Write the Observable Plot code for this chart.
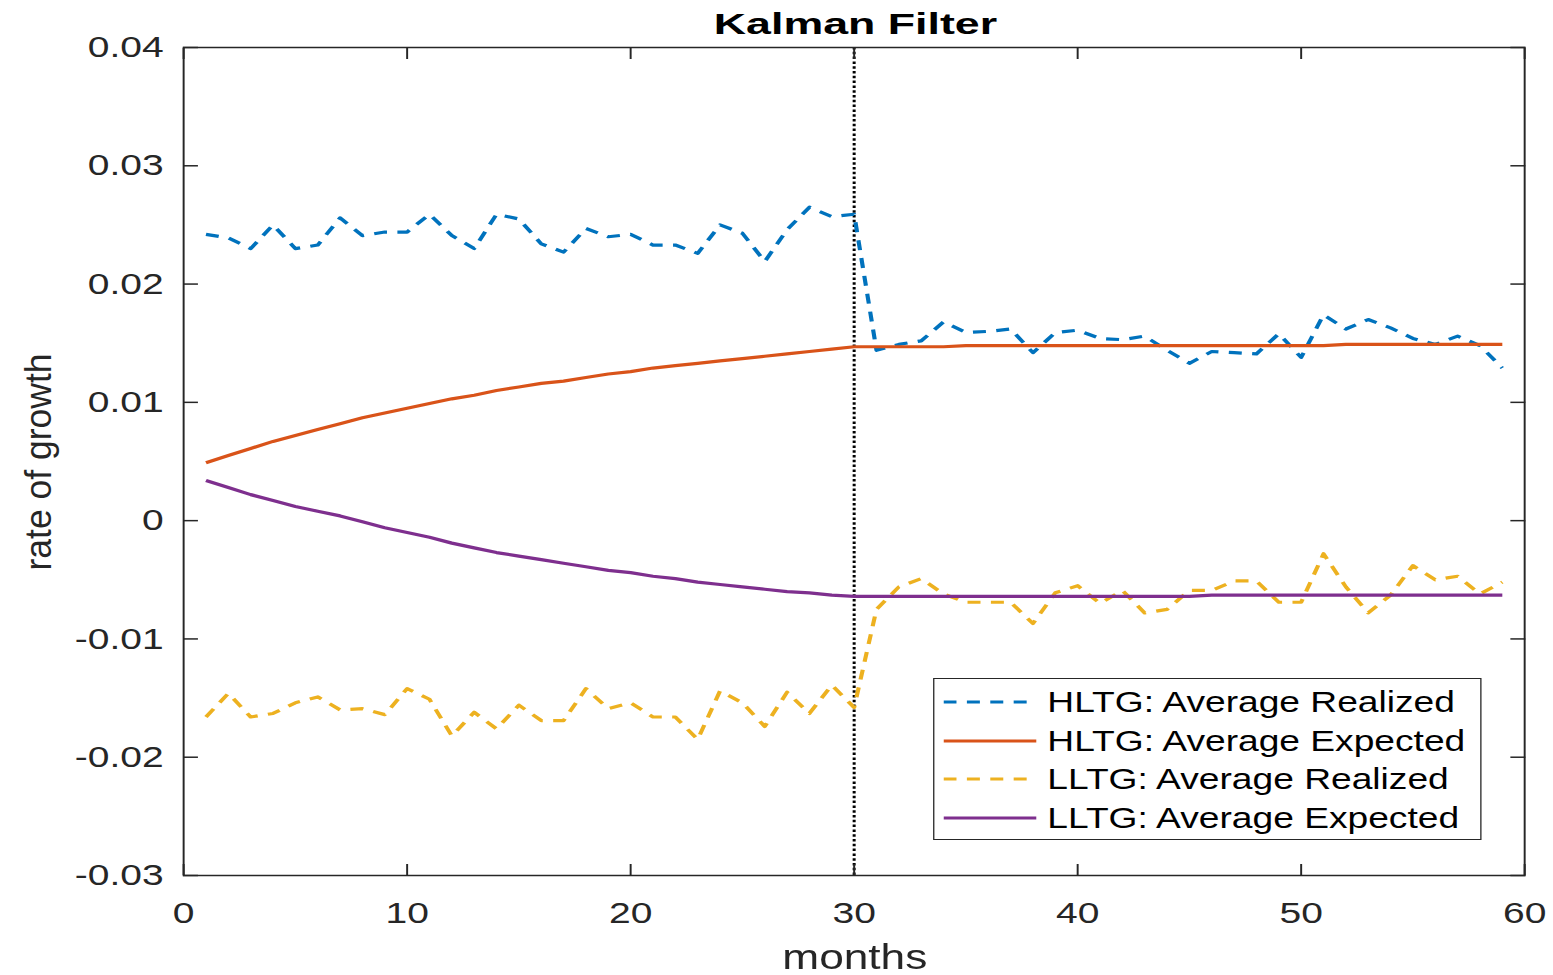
<!DOCTYPE html>
<html>
<head>
<meta charset="utf-8">
<script src="https://cdn.jsdelivr.net/npm/d3@7"></script>
<script src="https://cdn.jsdelivr.net/npm/@observablehq/plot@0.6"></script>
<style>
  html, body { margin: 0; padding: 0; background: white; overflow: hidden; }
  #chart { position: relative; width: 1195px; height: 975px; transform-origin: 0 0; }
  #legend { position: absolute; box-sizing: border-box; background: white; border: 1.4px solid #262626; }
  #legend .row { position: absolute; left: 0; width: 100%; height: 38px; }
  #legend .row svg { position: absolute; top: 0; }
  #legend .row span { position: absolute; top: 0; line-height: 38px; white-space: nowrap;
    font-family: 'Liberation Sans', Arial, Helvetica, sans-serif; font-size: 28.6px; color: #000; }
</style>
</head>
<body>
<div id="chart"></div>
<script>
// ---- data ----
const months = d3.range(1, 60); // months 1..59
const xTicks = [0, 10, 20, 30, 40, 50, 60];
const yTicks = [-0.03, -0.02, -0.01, 0, 0.01, 0.02, 0.03, 0.04];
const breakMonth = [30];
const titleText = ["Kalman Filter"];
const xLabel = ["months"];
const yLabel = ["rate of growth"];

const hltgRealized = [
  0.0242, 0.0239, 0.0230, 0.0250, 0.0230, 0.0233, 0.0256, 0.0241, 0.0244, 0.0244,
  0.0259, 0.0241, 0.0230, 0.0259, 0.0255, 0.0234, 0.0227, 0.0247, 0.0240, 0.0242,
  0.0233, 0.0233, 0.0226, 0.0250, 0.0243, 0.0219, 0.0246, 0.0265, 0.0257, 0.0259,
  0.0144, 0.0149, 0.0152, 0.0168, 0.0159, 0.0160, 0.0162, 0.0142, 0.0159, 0.0161,
  0.0154, 0.0153, 0.0156, 0.0144, 0.0133, 0.0143, 0.0142, 0.0141, 0.0158, 0.0138,
  0.0174, 0.0162, 0.0170, 0.0163, 0.0154, 0.0149, 0.0156, 0.0148, 0.0129
];
const hltgExpected = [
  0.0049, 0.0055, 0.0061, 0.0067, 0.0072, 0.0077, 0.0082, 0.0087, 0.0091, 0.0095,
  0.0099, 0.0103, 0.0106, 0.0110, 0.0113, 0.0116, 0.0118, 0.0121, 0.0124, 0.0126,
  0.0129, 0.0131, 0.0133, 0.0135, 0.0137, 0.0139, 0.0141, 0.0143, 0.0145, 0.0147,
  0.0147, 0.0147, 0.0147, 0.0147, 0.0148, 0.0148, 0.0148, 0.0148, 0.0148, 0.0148,
  0.0148, 0.0148, 0.0148, 0.0148, 0.0148, 0.0148, 0.0148, 0.0148, 0.0148, 0.0148,
  0.0148, 0.0149, 0.0149, 0.0149, 0.0149, 0.0149, 0.0149, 0.0149, 0.0149
];
const lltgRealized = [
  -0.0166, -0.0146, -0.0166, -0.0163, -0.0154, -0.0149, -0.0160, -0.0159, -0.0164, -0.0142,
  -0.0151, -0.0182, -0.0162, -0.0176, -0.0156, -0.0169, -0.0169, -0.0142, -0.0159, -0.0154,
  -0.0166, -0.0166, -0.0185, -0.0144, -0.0154, -0.0174, -0.0145, -0.0163, -0.0139, -0.0158,
  -0.0075, -0.0056, -0.0049, -0.0062, -0.0069, -0.0069, -0.0069, -0.0087, -0.0061, -0.0055,
  -0.0070, -0.0059, -0.0078, -0.0075, -0.0059, -0.0059, -0.0051, -0.0051, -0.0069, -0.0069,
  -0.0028, -0.0056, -0.0078, -0.0063, -0.0038, -0.0050, -0.0047, -0.0062, -0.0052
];
const lltgExpected = [
  0.0034, 0.0028, 0.0022, 0.0017, 0.0012, 0.0008, 0.0004, -0.0001, -0.0006, -0.0010,
  -0.0014, -0.0019, -0.0023, -0.0027, -0.0030, -0.0033, -0.0036, -0.0039, -0.0042, -0.0044,
  -0.0047, -0.0049, -0.0052, -0.0054, -0.0056, -0.0058, -0.0060, -0.0061, -0.0063, -0.0064,
  -0.0064, -0.0064, -0.0064, -0.0064, -0.0064, -0.0064, -0.0064, -0.0064, -0.0064, -0.0064,
  -0.0064, -0.0064, -0.0064, -0.0064, -0.0064, -0.0063, -0.0063, -0.0063, -0.0063, -0.0063,
  -0.0063, -0.0063, -0.0063, -0.0063, -0.0063, -0.0063, -0.0063, -0.0063, -0.0063
];

const seriesNames = ["HLTG: Average Realized", "HLTG: Average Expected", "LLTG: Average Realized", "LLTG: Average Expected"];
const seriesValues = [hltgRealized, hltgExpected, lltgRealized, lltgExpected];
const seriesColors = ["#0072BD", "#D95319", "#EDB120", "#7E2F8E"];
const seriesDash = ["10,8", null, "10,8", null];

// ---- layout (design units; whole chart stretched horizontally like the reference) ----
const W = 1195, H = 975, S = 1553 / W;
const font = "'Liberation Sans', Arial, Helvetica, sans-serif";
const fmt = d => d === 0 ? "0" : d.toFixed(2);

const plot = Plot.plot({
  width: W, height: H,
  marginLeft: 140.8, marginRight: 22.3, marginTop: 47, marginBottom: 100,
  x: {domain: [0, 60], label: null},
  y: {domain: [-0.03, 0.04], label: null},
  style: {fontFamily: font, fontSize: "30px", color: "#262626", background: "white", overflow: "visible"},
  marks: [
    Plot.ruleX(breakMonth, {stroke: "black", strokeWidth: 2.3, strokeDasharray: "2.5,2.3"}),
    ...seriesValues.map((vals, k) => Plot.line(vals, {
      x: months, y: vals, stroke: seriesColors[k], strokeWidth: 3.2,
      strokeDasharray: seriesDash[k] || undefined, strokeLinecap: "butt", strokeLinejoin: "round"
    })),
    Plot.frame({stroke: "#262626", strokeWidth: 1.5}),
    Plot.axisX({anchor: "bottom", ticks: xTicks, tickSize: -11, fill: "none", label: null, strokeWidth: 1.5}),
    Plot.axisX({anchor: "top", ticks: xTicks, tickSize: -11, fill: "none", label: null, strokeWidth: 1.5}),
    Plot.axisY({anchor: "left", ticks: yTicks, tickSize: -11.5, fill: "none", label: null, strokeWidth: 1.5}),
    Plot.axisY({anchor: "right", ticks: yTicks, tickSize: -11.5, fill: "none", label: null, strokeWidth: 1.5}),
    Plot.axisX({anchor: "bottom", ticks: xTicks, tickSize: 0, tickPadding: 25.7, label: null, tickFormat: d => String(d)}),
    Plot.axisY({anchor: "left", ticks: yTicks, tickSize: 0, tickPadding: 15.4, label: null, tickFormat: fmt}),
    Plot.text(titleText, {text: d => d, frameAnchor: "top", dx: 1, dy: -23.3, lineAnchor: "middle",
      fontSize: 30, fontWeight: "bold", fill: "black"}),
    Plot.text(xLabel, {text: d => d, frameAnchor: "bottom", dx: 0.5, dy: 81.8, lineAnchor: "middle",
      fontSize: 36, fill: "#262626"}),
    Plot.text(yLabel, {text: d => d, frameAnchor: "left", rotate: -90, dx: -111, dy: 109,
      textAnchor: "start", lineAnchor: "middle", fontSize: 28, fill: "#262626"})
  ]
});

const chart = document.getElementById("chart");
chart.style.transform = `scaleX(${S})`;
chart.appendChild(plot);

// fit text lengths to the reference
const fitText = (str, len) => d3.select(plot).selectAll("text")
  .filter(function() { return this.textContent === str; })
  .attr("textLength", len).attr("lengthAdjust", "spacingAndGlyphs");
fitText(titleText[0], 218);
fitText(xLabel[0], 111.6);
fitText(yLabel[0], 217);

// ---- legend ----
const legend = d3.select(chart).append("div").attr("id", "legend")
  .style("left", "718.4px").style("top", "678.3px")
  .style("width", "421.8px").style("height", "161.7px");
seriesNames.forEach((name, k) => {
  const row = legend.append("div").attr("class", "row")
    .style("top", `${24.5 + k * 38.5 - 19 - 1.4}px`);
  const svg = row.append("svg").attr("width", 71.4).attr("height", 38)
    .style("left", `${8.3 - 1.4}px`);
  svg.append("line").attr("x1", 0).attr("x2", 71.4).attr("y1", 19).attr("y2", 19)
    .attr("stroke", seriesColors[k]).attr("stroke-width", 3.2)
    .attr("stroke-dasharray", seriesDash[k]);
  row.append("span").text(name).style("left", `${87.9 - 1.4}px`);
});
</script>
</body>
</html>
